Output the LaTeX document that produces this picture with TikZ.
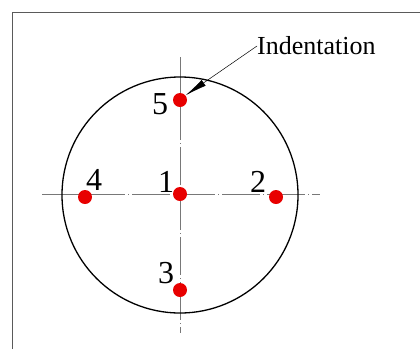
\documentclass[tikz,border=0pt]{standalone}
\usepackage{fontspec}
\setmainfont{Liberation Serif}
\usetikzlibrary{arrows.meta}
\definecolor{framegray}{RGB}{90,90,90}
\definecolor{axisgray}{RGB}{120,120,120}
\definecolor{dotred}{RGB}{232,0,0}
\tikzset{
  ptnode/.style={circle,fill=dotred,draw=none,minimum size=14pt,inner sep=0pt},
  numlabel/.style={anchor=base,inner sep=0pt,font=\fontsize{32}{36}\selectfont},
  axisline/.style={draw=axisgray,line width=0.6pt,dash pattern=on 38pt off 3pt on 1pt off 3pt},
  leadarrow/.style={-{Latex[length=22pt,width=7pt]},line width=0.5pt,draw=black}
}
\begin{document}
\begin{tikzpicture}[x=1pt,y=-1pt]
  \useasboundingbox (0,0) rectangle (420,349);
  % frame
  \draw[framegray,line width=1pt] (12,349) -- (12,12) -- (420,12);
  % centre lines
  \coordinate (hl) at (42,194);
  \coordinate (hr) at (320,194);
  \coordinate (vt) at (180,57);
  \coordinate (vb) at (180,333);
  \draw[axisline,dash phase=0pt] (hl) -- (hr);
  \draw[axisline,dash phase=0pt] (vt) -- (vb);
  % specimen outline
  \coordinate (c) at (180,195);
  \draw[line width=1.3pt] (c) circle[radius=118];
  % indentation points
  \node[ptnode] (p1) at (180,194) {};
  \node[ptnode] (p2) at (276,197) {};
  \node[ptnode] (p3) at (180,290) {};
  \node[ptnode] (p4) at (85,197) {};
  \node[ptnode] (p5) at (180,100) {};
  \node[numlabel] (l1) at (166,192) {1};
  \node[numlabel] (l2) at (258,192) {2};
  \node[numlabel] (l3) at (166,283) {3};
  \node[numlabel] (l4) at (94,190) {4};
  \node[numlabel] (l5) at (160,114) {5};
  % leader
  \node[anchor=west,inner sep=0pt,font=\fontsize{26}{30}\selectfont] (indent) at (257,46) {Indentation};
  \draw[leadarrow] (indent.west) -- (p5.40);
\end{tikzpicture}
\end{document}
